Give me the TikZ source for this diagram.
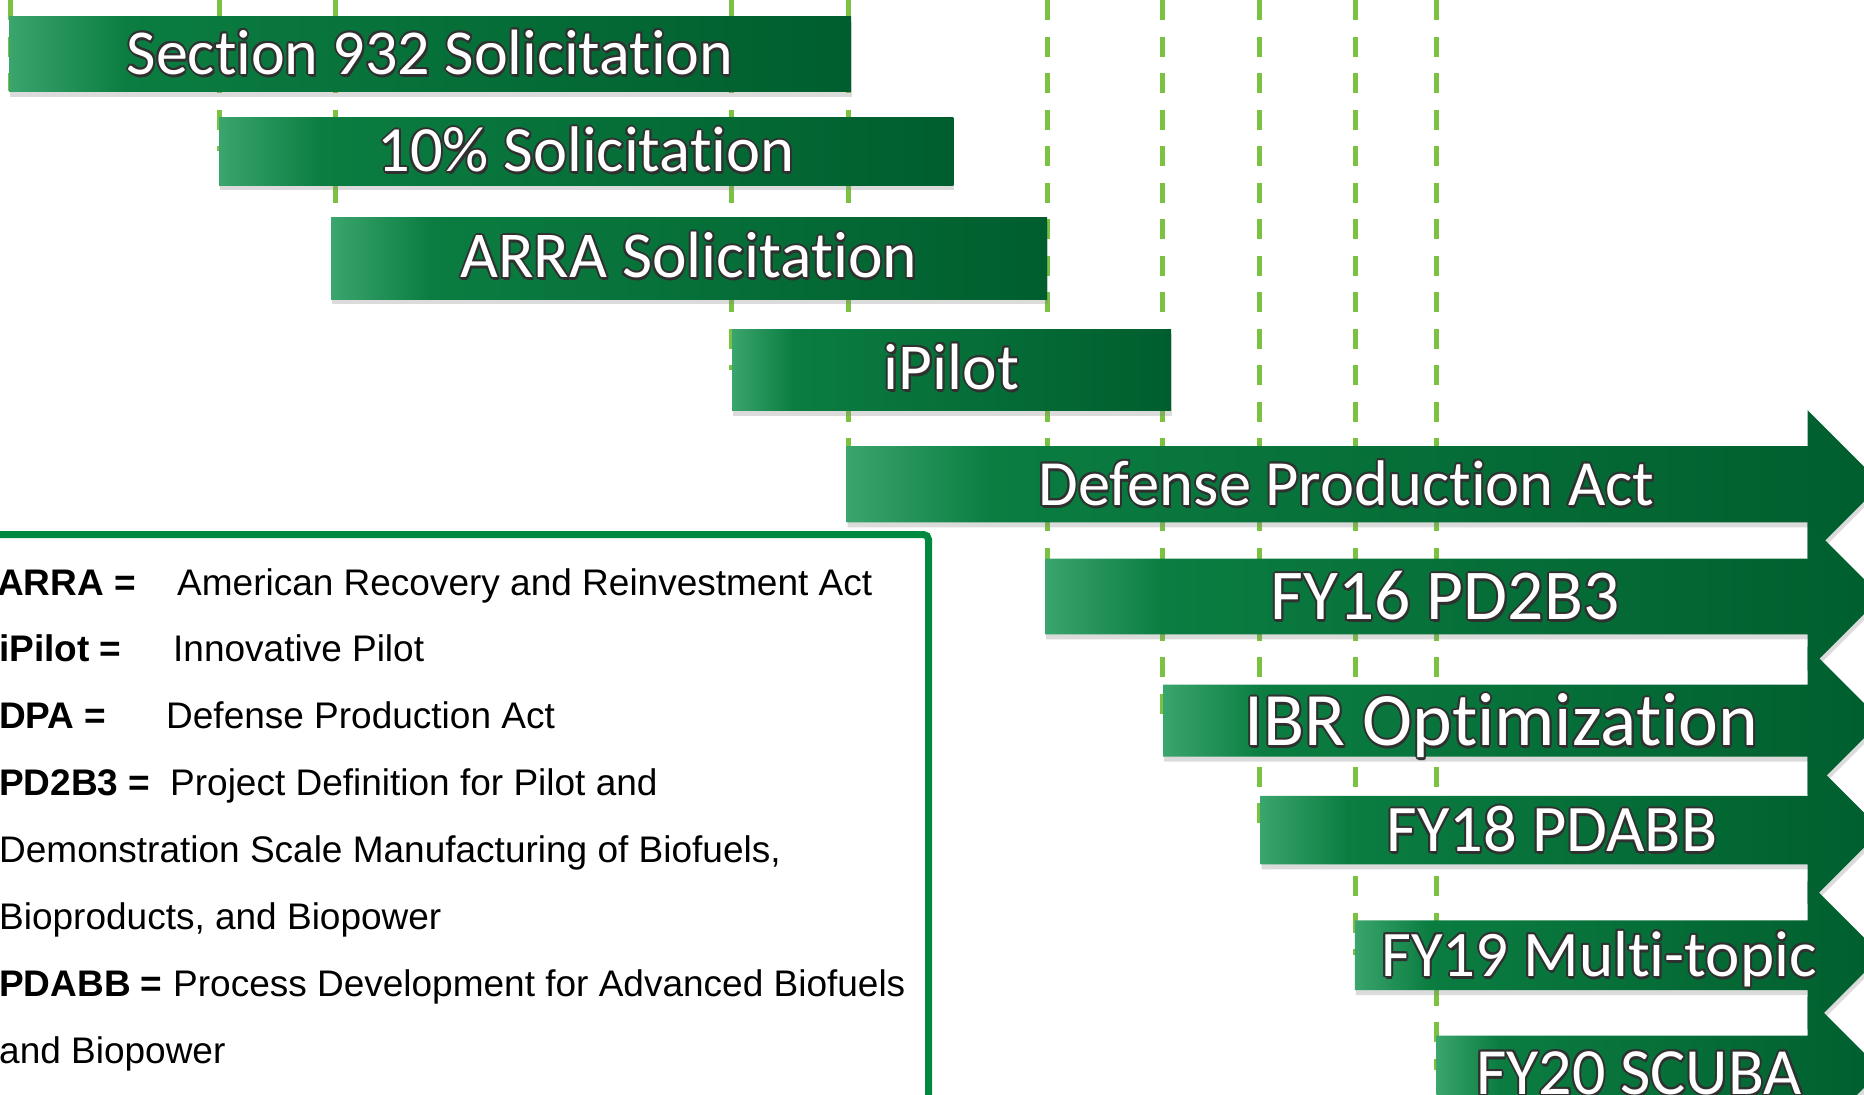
\documentclass[tikz,border=0pt]{standalone}
\usepackage{fontspec}
\setmainfont{Liberation Sans}
\newfontfamily\barfont[Ligatures={NoCommon}]{Carlito}
\usetikzlibrary{shadows}
\definecolor{gA}{HTML}{3AA56D}
\definecolor{gB}{HTML}{0B7D41}
\definecolor{gC}{HTML}{005E2E}
\definecolor{dashgreen}{HTML}{7CC242}
\definecolor{boxgreen}{HTML}{00893F}
\definecolor{outl}{HTML}{303030}
\pgfdeclarehorizontalshading{barshade}{100bp}{color(0bp)=(gA); color(25bp)=(gA); color(32bp)=(gB); color(75bp)=(gC); color(100bp)=(gC)}
\newcommand\oc[3]{\rlap{\kern#1\raisebox{#2}{\textcolor{outl}{#3}}}}
\newcommand\outlinetext[1]{\leavevmode
  \oc{2pt}{0pt}{#1}\oc{-2pt}{0pt}{#1}\oc{0pt}{2pt}{#1}\oc{0pt}{-2pt}{#1}%
  \oc{1.5pt}{1.5pt}{#1}\oc{-1.5pt}{1.5pt}{#1}\oc{1.5pt}{-1.5pt}{#1}\oc{-1.5pt}{-1.5pt}{#1}%
  \oc{1.2pt}{-3pt}{#1}%
  \textcolor{white}{#1}}
\begin{document}
\begin{tikzpicture}[x=1pt,y=-1pt,
  dashline/.style={draw=dashgreen, line width=5pt, dash pattern=on 20pt off 16.5pt},
  barbox/.style={shade, shading=barshade, drop shadow={opacity=0.28, shadow xshift=1pt, shadow yshift=-5pt}},
  bartext/.style={anchor=base, inner sep=0pt},
  legterm/.style={anchor=base west, inner sep=0pt, font=\fontsize{37}{40}\selectfont\bfseries},
  legdef/.style={anchor=base west, inner sep=0pt, font=\fontsize{37}{40}\selectfont}]
\useasboundingbox (0,0) rectangle (1864,1095);
\clip (0,0) rectangle (1864,1095);
\fill[white] (0,0) rectangle (1864,1095);

% dashed guide lines
\coordinate (d0t) at (10,0);     \coordinate (d0b) at (10,91);
\coordinate (d1t) at (219.5,0);  \coordinate (d1b) at (219.5,151);
\coordinate (d2t) at (335,0);    \coordinate (d2b) at (335,258);
\coordinate (d3t) at (731,0);    \coordinate (d3b) at (731,370);
\coordinate (d4t) at (848,0);    \coordinate (d4b) at (848,484);
\coordinate (d5t) at (1047,0);   \coordinate (d5b) at (1047,596);
\coordinate (d6t) at (1162.5,0); \coordinate (d6b) at (1162.5,720);
\coordinate (d7t) at (1259,0);   \coordinate (d7b) at (1259,830);
\coordinate (d8t) at (1355,0);   \coordinate (d8b) at (1355,955);
\coordinate (d9t) at (1436.5,0); \coordinate (d9b) at (1436.5,1070);
\foreach \i in {0,...,9} \draw[dashline] (d\i t) -- (d\i b);

% legend box
\draw[boxgreen, line width=7pt, rounded corners=5pt] (-30,1130) -- (-30,534.5) -- (928.5,534.5) -- (928.5,1130);

% plain bars
\path[barbox] (9,16.6) rectangle (851,91.5);
\path[barbox] (219,117.3) rectangle (953.4,185);
\path[barbox] (331,217) rectangle (1047,299);
\path[barbox] (732,329.3) rectangle (1171,410.7);

% arrow bars
\foreach \xl/\yt/\yb in {846.5/446/522.3, 1045/558.7/634.4, 1163/684.6/756.6, 1260.6/795.9/864.3, 1354.8/920.4/990.1, 1436.4/1035.7/1105}{
  \pgfmathsetmacro\yc{(\yt+\yb)/2}
  \path[barbox] (\xl,\yt) -- (1807.5,\yt) -- (1807.5,\yc-74) -- (1881.5,\yc) -- (1807.5,\yc+74) -- (1807.5,\yb) -- (\xl,\yb) -- cycle;
}

% bar labels
\node[bartext, font={\barfont\fontsize{64}{70}\selectfont}] (t1) at (430,74) {\outlinetext{Section 932 Solicitation}};
\node[bartext, font={\barfont\fontsize{64.5}{70}\selectfont}] (t2) at (586,171.7) {\outlinetext{10\% Solicitation}};
\node[bartext, font={\barfont\fontsize{65.5}{70}\selectfont}] (t3) at (689,277.5) {\outlinetext{ARRA Solicitation}};
\node[bartext, font={\barfont\fontsize{65.5}{70}\selectfont}] (t4) at (951.5,389) {\outlinetext{iPilot}};
\node[bartext, font={\barfont\fontsize{64.5}{70}\selectfont}] (t5) at (1346.5,505) {\outlinetext{Defense Production Act}};
\node[bartext, font={\barfont\fontsize{71.5}{76}\selectfont}] (t6) at (1445,619.5) {\outlinetext{FY16 PD2B3}};
\node[bartext, font={\barfont\fontsize{75.5}{80}\selectfont}] (t7) at (1501.5,745.5) {\outlinetext{IBR Optimization}};
\node[bartext, font={\barfont\fontsize{66.5}{70}\selectfont}] (t8) at (1552,851.5) {\outlinetext{FY18 PDABB}};
\node[bartext, font={\barfont\fontsize{65}{70}\selectfont}] (t9) at (1599,976) {\outlinetext{FY19 Multi-topic}};
\node[bartext, font={\barfont\fontsize{66}{70}\selectfont}] (t10) at (1639,1094) {\outlinetext{FY20 SCUBA}};

% legend text
\node[legterm] (k1) at (-3,595) {ARRA =};
\node[legdef]  (v1) at (177,595) {American Recovery and Reinvestment Act};
\node[legterm] (k2) at (-1,661.5) {iPilot =};
\node[legdef]  (v2) at (173,661.5) {Innovative Pilot};
\node[legterm] (k3) at (-1,728) {DPA =};
\node[legdef]  (v3) at (166,728) {Defense Production Act};
\node[legterm] (k4) at (-1,795) {PD2B3 =};
\node[legdef]  (v4) at (170,795) {Project Definition for Pilot and};
\node[legdef]  (v5) at (-1,862) {Demonstration Scale Manufacturing of Biofuels,};
\node[legdef]  (v6) at (-1,929) {Bioproducts, and Biopower};
\node[legterm] (k7) at (-1,996.5) {PDABB =};
\node[legdef]  (v7) at (173,996.5) {Process Development for Advanced Biofuels};
\node[legdef]  (v8) at (-1,1063) {and Biopower};
\end{tikzpicture}
\end{document}
